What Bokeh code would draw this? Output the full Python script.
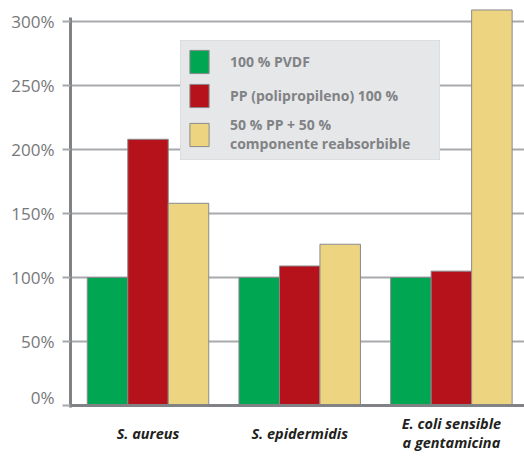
from bokeh.plotting import figure
from bokeh.layouts import column
from bokeh.models import Range1d, FixedTicker, Legend, LegendItem, Span
from bokeh.core.properties import value
from bokeh.embed import file_html
from bokeh.resources import INLINE

categories = ["S. aureus", "S. epidermidis", "E. coli sensible\na gentamicina"]
series_names = ["100 % PVDF", "PP (polipropileno) 100 %", "50 % PP + 50 %\ncomponente reabsorbible"]
pvdf = [100, 100, 100]
pp = [208, 109, 105]
mix = [158, 126, 309]
y_ticks = [0, 50, 100, 150, 200, 250, 300]
y_tick_labels = ["0%", "50%", "100%", "150%", "200%", "250%", "300%"]
colors = ["#00a651", "#b5121b", "#edd480"]

series = [pvdf, pp, mix]
centers = [i + 0.5 for i in range(len(categories))]
bar_w = 0.267
offsets = [-bar_w, 0, bar_w]

x_range = Range1d(-0.011, 2.982)

p = figure(width=524, height=408, output_backend="svg", toolbar_location=None,
           x_range=x_range, y_range=Range1d(-2.3, 316.4),
           min_border_left=70, min_border_right=0, min_border_top=0, min_border_bottom=0)
p.outline_line_color = None
p.background_fill_color = "white"
p.border_fill_color = "white"

renderers = []
for vals, off, col in zip(series, offsets, colors):
    r = p.vbar(x=[c + off for c in centers], top=vals, width=bar_w, bottom=0,
               fill_color=col, line_color="#8a8a8d", line_width=1)
    renderers.append(r)

# y axis
p.yaxis.ticker = FixedTicker(ticks=y_ticks)
p.yaxis.bounds = (-1.2, 303)
p.yaxis.major_label_overrides = {t: l for t, l in zip(y_ticks, y_tick_labels)}
p.yaxis.axis_line_color = "#808285"
p.yaxis.axis_line_width = 3
p.yaxis.major_tick_out = 8
p.yaxis.major_tick_in = 0
p.yaxis.major_tick_line_color = "#a7a9ac"
p.yaxis.major_tick_line_width = 2
p.yaxis.minor_tick_line_color = None
p.yaxis.major_label_text_font = "Open Sans"
p.yaxis.major_label_text_font_size = "17px"
p.yaxis.major_label_text_color = "#76777a"
p.yaxis.major_label_standoff = 8

p.xaxis.visible = False
p.xgrid.grid_line_color = None
p.ygrid.ticker = FixedTicker(ticks=y_ticks)
p.ygrid.grid_line_color = "#a7a9ac"
p.ygrid.grid_line_width = 2

# baseline (x axis line)
p.add_layout(Span(location=0, dimension="width", line_color="#808285", line_width=3))

legend = Legend(items=[LegendItem(label=n, renderers=[r]) for n, r in zip(series_names, renderers)],
                location=(110, 248))
legend.background_fill_color = "#e6e7e8"
legend.background_fill_alpha = 1
legend.border_line_color = "#d1d3d4"
legend.border_line_width = 1
legend.glyph_width = 24
legend.glyph_height = 29
legend.label_standoff = 19
legend.label_width = 203
legend.spacing = 5
legend.padding = 6
legend.margin = 0
legend.label_text_font = "Open Sans"
legend.label_text_font_size = "14px"
legend.label_text_font_style = "bold"
legend.label_text_color = "#808285"
legend.label_text_line_height = 1.1
p.add_layout(legend, "center")

# category labels in a strip below the plot, sharing the x range
p2 = figure(width=524, height=49, output_backend="svg", toolbar_location=None,
            x_range=x_range, y_range=Range1d(0, 1),
            min_border_left=70, min_border_right=0, min_border_top=0, min_border_bottom=0)
p2.axis.visible = False
p2.grid.grid_line_color = None
p2.outline_line_color = None
p2.text(x=centers, y=[0.5] * len(centers), text=categories, text_align="center",
        text_baseline="middle", text_font=value("Open Sans"), text_font_size="14.5px",
        text_font_style="bold italic", text_color="#231f20", text_line_height=1.05)

layout = column(p, p2, spacing=0)
open("out.html", "w").write(file_html(layout, INLINE))
